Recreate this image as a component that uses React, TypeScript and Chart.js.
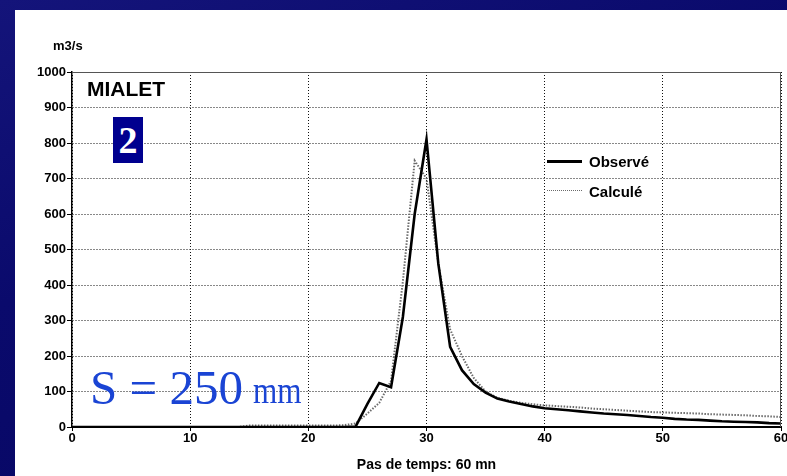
import React, { useEffect, useRef } from "react";
import { Chart, registerables } from "chart.js";

Chart.register(...registerables);

// ---- data ----
const timeSteps = [
  0, 1, 2, 3, 4, 5, 6, 7, 8, 9, 10, 11, 12, 13, 14, 15, 16, 17, 18, 19, 20,
  21, 22, 23, 24, 25, 26, 27, 28, 29, 30, 31, 32, 33, 34, 35, 36, 37, 38, 39, 40,
  41, 42, 43, 44, 45, 46, 47, 48, 49, 50, 51, 52, 53, 54, 55, 56, 57, 58, 59, 60,
];
const observed = [
  0, 0, 0, 0, 0, 0, 0, 0, 0, 0, 0, 0, 0, 0, 0, 0, 0, 0, 0, 0, 0,
  0, 0, 0, 1, 65, 124, 112, 310, 600, 810, 460, 226, 160, 121, 97, 80, 72, 65, 58, 53,
  50, 47, 44, 41, 38, 36, 34, 31, 28, 26, 23, 21, 20, 18, 16, 15, 14, 13, 11, 10,
];
const calculated = [
  0, 0, 0, 0, 0, 0, 0, 0, 0, 0, 0, 0, 0, 0, 0, 4, 4, 4, 4, 4, 4,
  4, 4, 5, 10, 38, 68, 130, 410, 750, 700, 460, 275, 200, 138, 100, 82, 74, 68, 64, 61,
  59, 57, 55, 52, 50, 48, 46, 44, 42, 41, 40, 39, 38, 36, 35, 34, 33, 31, 30, 28,
];
const seriesNames = ["Observé", "Calculé"];
const xTicks = [0, 10, 20, 30, 40, 50, 60];
const yTicks = [0, 100, 200, 300, 400, 500, 600, 700, 800, 900, 1000];
const stationName = "MIALET";
const eventNumber = "2";
const rainText = "S = 250";
const rainUnit = "mm";
const yUnit = "m3/s";
const xTitle = "Pas de temps: 60 mn";

const SANS = "'Liberation Sans', Arial, sans-serif";
const SERIF = "'Liberation Serif', 'Times New Roman', serif";

export default function App() {
  const ref = useRef<HTMLCanvasElement>(null);

  useEffect(() => {
    const frame = {
      id: "frame",
      afterDraw(chart: any) {
        const { ctx, chartArea: a } = chart;
        ctx.save();
        ctx.strokeStyle = "#555";
        ctx.lineWidth = 1;
        ctx.beginPath();
        ctx.moveTo(a.left, a.top + 0.5);
        ctx.lineTo(a.right - 0.5, a.top + 0.5);
        ctx.lineTo(a.right - 0.5, a.bottom);
        ctx.stroke();
        ctx.restore();
      },
    };
    const chart = new Chart(ref.current!, {
      type: "line",
      data: {
        datasets: [
          {
            label: seriesNames[0],
            data: timeSteps.map((t, i) => ({ x: t, y: observed[i] })),
            borderColor: "#000",
            borderWidth: 2.6,
            pointRadius: 0,
            tension: 0,
            fill: false,
          },
          {
            label: seriesNames[1],
            data: timeSteps.map((t, i) => ({ x: t, y: calculated[i] })),
            borderColor: "#6a6a6a",
            borderWidth: 2,
            borderDash: [1.5, 1.5],
            pointRadius: 0,
            tension: 0,
            fill: false,
          },
        ],
      },
      options: {
        animation: false,
        responsive: false,
        devicePixelRatio: 1,
        layout: { padding: { top: 72, right: 6, bottom: 0, left: 0 } },
        plugins: { legend: { display: false }, tooltip: { enabled: false } },
        scales: {
          x: {
            type: "linear",
            min: 0,
            max: 60,
            afterBuildTicks(scale: any) {
              scale.ticks = xTicks.map((v) => ({ value: v }));
            },
            afterFit(scale: any) {
              scale.height = 49;
              scale.paddingLeft = 0;
              scale.paddingRight = 0;
            },
            ticks: {
              color: "#000",
              font: { family: SANS, size: 13, weight: "bold" },
              padding: 0,
              maxRotation: 0,
              autoSkip: false,
              callback: (v: any) => String(v),
            },
            grid: {
              color: "#111",
              lineWidth: 1,
              tickLength: 4,
              tickColor: "#000",
              tickWidth: 1,
            },
            border: { display: true, color: "#000", width: 2, dash: [1, 2] },
          },
          y: {
            type: "linear",
            min: 0,
            max: 1000,
            afterBuildTicks(scale: any) {
              scale.ticks = yTicks.map((v) => ({ value: v }));
            },
            afterFit(scale: any) {
              scale.width = 72;
              scale.paddingTop = 0;
              scale.paddingBottom = 0;
            },
            ticks: {
              color: "#000",
              font: { family: SANS, size: 13, weight: "bold" },
              padding: 1,
              autoSkip: false,
              callback: (v: any) => String(v),
            },
            grid: {
              color: "#111",
              lineWidth: 1,
              tickLength: 5,
              tickColor: "#000",
              tickWidth: 1,
            },
            border: { display: true, color: "#000", width: 1.5, dash: [1, 2] },
          },
        },
      },
      plugins: [frame],
    } as any);
    return () => chart.destroy();
  }, []);

  const abs = (s: React.CSSProperties): React.CSSProperties => ({
    position: "absolute",
    whiteSpace: "nowrap",
    lineHeight: 1,
    ...s,
  });

  return (
    <div
      style={{
        position: "fixed",
        left: 0,
        top: 0,
        width: 787,
        height: 476,
        overflow: "hidden",
        background:
          "linear-gradient(160deg, #14147a 0%, #0a0a6c 40%, #060660 100%)",
      }}
    >
      <div style={{ position: "absolute", left: 15, top: 10, right: 0, bottom: 0, background: "#fff" }} />
      <canvas
        ref={ref}
        width={787}
        height={476}
        style={{ position: "absolute", left: 0, top: 0, width: 787, height: 476 }}
      />
      {/* axis unit */}
      <div style={abs({ left: 53, top: 38, font: `bold 13px ${SANS}`, color: "#000" })}>{yUnit}</div>
      {/* x title */}
      <div
        style={abs({
          left: 72,
          width: 709,
          top: 456,
          textAlign: "center",
          font: `bold 14px ${SANS}`,
          color: "#000",
        })}
      >
        {xTitle}
      </div>
      {/* station */}
      <div style={abs({ left: 87, top: 77, font: `bold 21px ${SANS}`, color: "#000" })}>{stationName}</div>
      {/* event number box */}
      <div
        style={abs({
          left: 113,
          top: 117,
          width: 30,
          height: 46,
          background: "#00008f",
          color: "#fff",
          font: `bold 38px ${SERIF}`,
          display: "flex",
          alignItems: "center",
          justifyContent: "center",
        })}
      >
        {eventNumber}
      </div>
      {/* rain total */}
      <div style={abs({ left: 90, top: 359, font: `49px ${SERIF}`, color: "#1a44d4" })}>{rainText}</div>
      <div
        style={abs({
          left: 253,
          top: 368,
          font: `38px ${SERIF}`,
          color: "#1a44d4",
          transform: "scaleX(0.82)",
          transformOrigin: "left top",
        })}
      >
        {rainUnit}
      </div>
      {/* legend */}
      <div style={abs({ left: 547, top: 160, width: 35, height: 2.5, background: "#000" })} />
      <div style={abs({ left: 589, top: 153, font: `bold 15px ${SANS}`, color: "#000" })}>{seriesNames[0]}</div>
      <div style={abs({ left: 547, top: 190, width: 35, height: 0, borderTop: "1.5px dotted #6a6a6a" })} />
      <div style={abs({ left: 589, top: 183, font: `bold 15px ${SANS}`, color: "#000" })}>{seriesNames[1]}</div>
    </div>
  );
}
